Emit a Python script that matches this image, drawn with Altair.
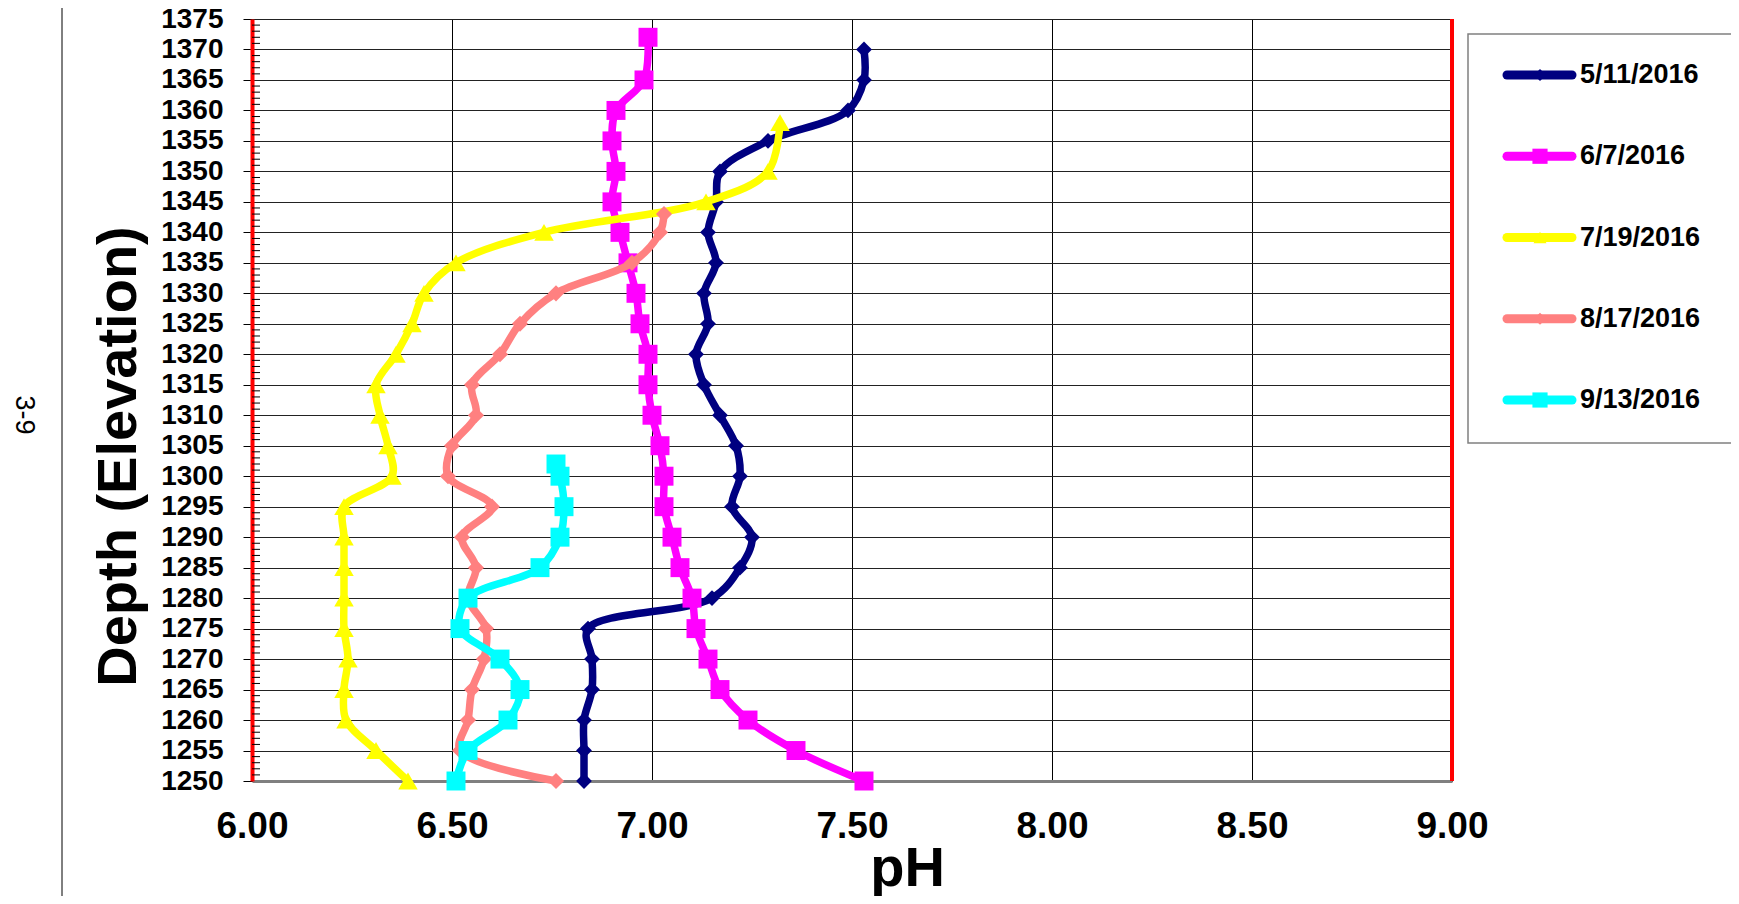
import altair as alt
import pandas as pd

FONT = "Liberation Sans, Arial, sans-serif"

SERIES = ["5/11/2016", "6/7/2016", "7/19/2016", "8/17/2016", "9/13/2016"]
COLORS = ["#000080", "#FF00FF", "#FFFF00", "#FF8080", "#00FFFF"]
SHAPES = ["diamond", "square", "triangle-up", "diamond", "square"]
SIZES = [250, 360, 380, 260, 360]
LEG_SIZES = [150, 230, 170, 150, 230]

ELEV_511 = [1370, 1365, 1360, 1355, 1350, 1345, 1340, 1335, 1330, 1325, 1320, 1315, 1310,
            1305, 1300, 1295, 1290, 1285, 1280, 1275, 1270, 1265, 1260, 1255, 1250]
PH_511 = [7.53, 7.53, 7.49, 7.29, 7.17, 7.16, 7.14, 7.16, 7.13, 7.14, 7.11, 7.13, 7.17,
          7.21, 7.22, 7.20, 7.25, 7.22, 7.15, 6.84, 6.85, 6.85, 6.83, 6.83, 6.83]

ELEV_607 = [1372, 1365, 1360, 1355, 1350, 1345, 1340, 1335, 1330, 1325, 1320, 1315, 1310,
            1305, 1300, 1295, 1290, 1285, 1280, 1275, 1270, 1265, 1260, 1255, 1250]
PH_607 = [6.99, 6.98, 6.91, 6.90, 6.91, 6.90, 6.92, 6.94, 6.96, 6.97, 6.99, 6.99, 7.00,
          7.02, 7.03, 7.03, 7.05, 7.07, 7.10, 7.11, 7.14, 7.17, 7.24, 7.36, 7.53]

ELEV_719 = [1358, 1350, 1345, 1340, 1335, 1330, 1325, 1320, 1315, 1310, 1305,
            1300, 1295, 1290, 1285, 1280, 1275, 1270, 1265, 1260, 1255, 1250]
PH_719 = [7.32, 7.29, 7.135, 6.73, 6.51, 6.43, 6.40, 6.36, 6.31, 6.32, 6.34,
          6.35, 6.23, 6.23, 6.23, 6.23, 6.23, 6.24, 6.23, 6.235, 6.31, 6.39]

ELEV_817 = [1343, 1340, 1335, 1330, 1325, 1320, 1315, 1310, 1305, 1300,
            1295, 1290, 1285, 1280, 1275, 1270, 1265, 1260, 1255, 1250]
PH_817 = [7.03, 7.02, 6.95, 6.76, 6.67, 6.62, 6.55, 6.56, 6.50, 6.49,
          6.60, 6.525, 6.56, 6.54, 6.585, 6.58, 6.55, 6.54, 6.52, 6.76]

ELEV_913 = [1302, 1300, 1295, 1290, 1285, 1280, 1275, 1270, 1265, 1260, 1255, 1250]
PH_913 = [6.76, 6.77, 6.78, 6.77, 6.72, 6.54, 6.52, 6.62, 6.67, 6.64, 6.54, 6.51]

ELEVS = [ELEV_511, ELEV_607, ELEV_719, ELEV_817, ELEV_913]
PHS = [PH_511, PH_607, PH_719, PH_817, PH_913]

X_TICKS = [6.0, 6.5, 7.0, 7.5, 8.0, 8.5, 9.0]
Y_TICKS = list(range(1250, 1376, 5))
Y_MINOR = [v for v in range(1250, 1376) if v % 5 != 0]

W, H = 1200, 762

xscale = alt.Scale(domain=[6, 9], nice=False, zero=False)
yscale = alt.Scale(domain=[1250, 1375], nice=False, zero=False)

xaxis = alt.Axis(
    values=X_TICKS, format=".2f", ticks=False, tickSize=0,
    labelFont=FONT, labelFontSize=37, labelFontWeight="bold", labelColor="black",
    labelBaseline="alphabetic", labelPadding=56, labelFlush=False,
    domainColor="#808080", domainWidth=3,
    grid=True, gridColor="#000000", gridWidth=1,
    title="pH", titleFont=FONT, titleFontSize=56, titleFontWeight="bold", titleColor="black",
    titleX=655, titleY=104, titleBaseline="alphabetic", titleAlign="center",
)
yaxis = alt.Axis(
    values=Y_TICKS, format="d", tickSize=9, tickColor="black", tickWidth=1,
    labelFont=FONT, labelFontSize=28, labelFontWeight="bold", labelColor="black",
    labelPadding=20, labelFlush=False, labelOverlap=False,
    domainColor="#FF0000", domainWidth=4,
    grid=True, gridColor="#222222", gridWidth=1,
    title="Depth (Elevation)", titleFont=FONT, titleFontSize=56, titleFontWeight="bold",
    titleColor="black", titleAngle=270, titleX=-117, titleY=437,
    titleBaseline="alphabetic", titleAlign="center",
)

layers = []

minor = alt.Chart(pd.DataFrame({"elev": Y_MINOR})).mark_rule(color="black", strokeWidth=1).encode(
    y=alt.Y("elev:Q", scale=yscale, axis=yaxis),
    x=alt.value(0), x2=alt.value(8),
)
layers.append(minor)

right_red = alt.Chart(pd.DataFrame({"ph": [9.0]})).mark_rule(color="#FF0000", strokeWidth=4).encode(
    x=alt.X("ph:Q", scale=xscale, axis=xaxis),
)
layers.append(right_red)

for s, c, shp, sz, el, ph in zip(SERIES, COLORS, SHAPES, SIZES, ELEVS, PHS):
    d = pd.DataFrame({"elev": el, "ph": ph, "series": s})
    line = alt.Chart(d).mark_line(
        color=c, strokeWidth=7.5, interpolate="catmull-rom", strokeCap="round", strokeJoin="round"
    ).encode(
        x=alt.X("ph:Q", scale=xscale, axis=xaxis),
        y=alt.Y("elev:Q", scale=yscale, axis=yaxis),
        order=alt.Order("elev:Q"),
    )
    pts = alt.Chart(d).mark_point(shape=shp, filled=True, size=sz, color=c, opacity=1).encode(
        x=alt.X("ph:Q", scale=xscale, axis=xaxis),
        y=alt.Y("elev:Q", scale=yscale, axis=yaxis),
    )
    layers += [line, pts]

plot = alt.layer(*layers)

# decorations outside plot: page number and margin line
one = pd.DataFrame({"a": [0]})
margin_line = alt.Chart(one).mark_rule(color="black", strokeWidth=1).encode(
    x=alt.value(-190), y=alt.value(-19), y2=alt.value(885)
)
page_no = alt.Chart(one).mark_text(
    text="3-9", font=FONT, fontSize=27, angle=90, align="center", baseline="middle", color="black"
).encode(x=alt.value(-228), y=alt.value(396))

# legend
leg_y = alt.Scale(type="point", domain=SERIES, range=[56, 381], padding=0)
leg_box = alt.Chart(one).mark_rect(fill="white", stroke="#808080", strokeWidth=1.5).encode(
    x=alt.value(1216), x2=alt.value(1520), y=alt.value(15), y2=alt.value(424)
)
leg_layers = [leg_box]
for s, c, shp, lsz in zip(SERIES, COLORS, SHAPES, LEG_SIZES):
    ld = pd.DataFrame({"series": [s]})
    leg_layers.append(
        alt.Chart(ld).mark_rule(color=c, strokeWidth=9, strokeCap="round").encode(
            y=alt.Y("series:N", scale=leg_y, axis=None), x=alt.value(1255), x2=alt.value(1320)
        )
    )
    leg_layers.append(
        alt.Chart(ld).mark_point(shape=shp, filled=True, size=lsz, color=c, opacity=1).encode(
            y=alt.Y("series:N", scale=leg_y, axis=None), x=alt.value(1288)
        )
    )
    leg_layers.append(
        alt.Chart(ld).mark_text(
            font=FONT, fontSize=27, fontWeight="bold", align="left", baseline="middle", color="black"
        ).encode(
            y=alt.Y("series:N", scale=leg_y, axis=None), x=alt.value(1328), text="series:N"
        )
    )
legend = alt.layer(*leg_layers)

chart = alt.layer(plot, legend, margin_line, page_no).resolve_scale(y="independent").properties(
    width=W, height=H,
    autosize=alt.AutoSizeParams(type="none"),
    padding={"left": 244, "top": 11, "right": 279, "bottom": 115},
    background="white",
).configure_view(strokeWidth=0)

chart.save("out.html", embed_options={"renderer": "svg", "actions": False})
